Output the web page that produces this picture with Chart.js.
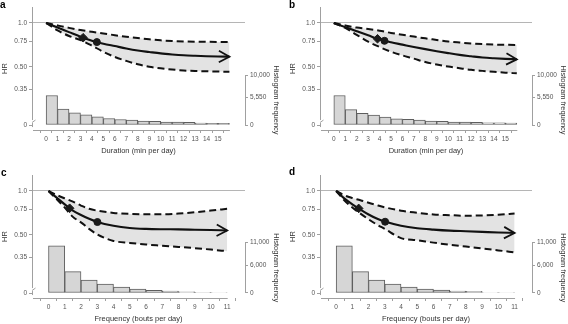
<!DOCTYPE html>
<html><head><meta charset="utf-8">
<script src="https://cdn.jsdelivr.net/npm/chart.js@4.4.1/dist/chart.umd.min.js"></script>
<style>
html,body{margin:0;padding:0;background:#fff;}
#wrap{position:relative;width:568px;height:324px;overflow:hidden;background:#fff;}
canvas{position:absolute;}
.lbl{position:absolute;font:bold 10px 'Liberation Sans',Arial,sans-serif;color:#000;line-height:10px;}
</style></head><body>
<div id="wrap">
<canvas id="ca" width="284" height="156" style="left:0;top:0"></canvas>
<canvas id="cb" width="280" height="156" style="left:288px;top:0"></canvas>
<canvas id="cc" width="284" height="156" style="left:0;top:168px"></canvas>
<canvas id="cd" width="280" height="156" style="left:288px;top:168px"></canvas>
<div class="lbl" style="left:0px;top:0px">a</div>
<div class="lbl" style="left:289px;top:0px">b</div>
<div class="lbl" style="left:1px;top:168px">c</div>
<div class="lbl" style="left:289px;top:167px">d</div>
</div>
<script>
// ---------- data ----------
const durationX = [0,1,2,3,4,5,6,7,8,9,10,11,12,13,14,15,16];
const frequencyX = [0,0.5,1,1.5,2,2.5,3,4,5,6,7,8,9,10,11];

const hrA = [1.0,0.931,0.866,0.806,0.757,0.722,0.695,0.669,0.648,0.633,0.619,0.609,0.601,0.596,0.592,0.589,0.588];
const upA = [1.0,0.962,0.926,0.895,0.870,0.848,0.825,0.805,0.788,0.773,0.761,0.753,0.748,0.745,0.743,0.742,0.741];
const loA = [1.0,0.890,0.815,0.764,0.700,0.635,0.585,0.550,0.522,0.502,0.489,0.480,0.473,0.469,0.467,0.465,0.464];
const markXA = [3.23,4.43];
const markHRA = [0.793,0.740];

const hrB = [1.0,0.937,0.878,0.823,0.772,0.738,0.711,0.685,0.662,0.641,0.622,0.605,0.592,0.580,0.573,0.568,0.564];
const upB = [1.0,0.962,0.930,0.910,0.885,0.855,0.830,0.807,0.785,0.766,0.747,0.735,0.725,0.717,0.712,0.709,0.707];
const loB = [1.0,0.925,0.830,0.745,0.685,0.635,0.600,0.570,0.540,0.520,0.503,0.490,0.478,0.470,0.463,0.457,0.452];
const markXB = [3.82,4.43];
const markHRB = [0.780,0.755];

const hrC = [1.0,0.900,0.810,0.735,0.685,0.645,0.614,0.578,0.558,0.550,0.547,0.546,0.543,0.540,0.537];
const upC = [1.0,0.940,0.890,0.845,0.795,0.755,0.733,0.708,0.697,0.692,0.693,0.700,0.715,0.735,0.755];
const loC = [1.0,0.880,0.770,0.665,0.610,0.550,0.505,0.455,0.441,0.430,0.422,0.414,0.406,0.397,0.387];
const markXC = [1.30,3.01];
const markHRC = [0.762,0.613];

const hrD = [1.0,0.890,0.810,0.745,0.690,0.648,0.617,0.578,0.556,0.544,0.535,0.530,0.525,0.520,0.516];
const upD = [1.0,0.935,0.895,0.865,0.830,0.800,0.773,0.733,0.710,0.691,0.683,0.677,0.680,0.687,0.702];
const loD = [1.0,0.865,0.770,0.700,0.640,0.590,0.550,0.476,0.460,0.443,0.428,0.416,0.404,0.392,0.380];
const markXD = [1.39,3.02];
const markHRD = [0.760,0.616];

const durationBins = [0,1,2,3,4,5,6,7,8,9,10,11,12,13,14,15];
const frequencyBins = [0,1,2,3,4,5,6,7,8,9,10];
const histA = [5900,3200,2420,2030,1630,1300,1100,985,790,710,590,590,510,390,315,315];
const histB = [5900,3080,2350,1960,1570,1240,1120,980,780,720,590,590,530,450,450,390];
const histC = [10300,4660,2800,1940,1290,860,560,430,280,140,100];
const histD = [10250,4660,2800,1940,1290,860,650,430,350,100,100];

const hrTicks = [0.2,0.35,0.5,0.75,1.0];
const hrTickLabels = ['0','0.35','0.50','0.75','1.0'];
const durationTicks = [0,1,2,3,4,5,6,7,8,9,10,11,12,13,14,15];
const frequencyTicks = [0,1,2,3,4,5,6,7,8,9,10,11];
const histTicksDuration = [0,5550,10000];
const histTicksFrequency = [0,6000,11000];

// ---------- drawing ----------
const FONT = "'Liberation Sans', Arial, sans-serif";
Chart.defaults.font.family = FONT;
Chart.defaults.color = '#555';

const axisPlugin = {
  id: 'axisLines',
  afterDraw(chart, args, o) {
    const {ctx, chartArea: a, scales} = chart;
    const xs = scales.x, ys = scales.y, yh = scales.yh;
    ctx.save();
    ctx.strokeStyle = '#a0a0a0';
    ctx.lineWidth = 1;
    const lx = Math.round(a.left) + 0.5;
    const y0 = ys.getPixelForValue(hrTicks[0]);
    ctx.beginPath();
    ctx.moveTo(lx, a.top); ctx.lineTo(lx, y0 - 5);
    ctx.moveTo(lx, y0 - 2); ctx.lineTo(lx, y0 + 2);
    ctx.stroke();
    ctx.beginPath();
    ctx.moveTo(lx - 0.5, y0 - 2.5); ctx.lineTo(lx + 3, y0 - 5);
    ctx.stroke();
    const by = Math.round(a.bottom) + 0.5;
    ctx.beginPath();
    ctx.moveTo(a.left + 1, by); ctx.lineTo(xs.getPixelForValue(o.xEnd) + 0.5, by);
    ctx.stroke();
    const rx = Math.round(a.right) + 0.5;
    const h0 = yh.getPixelForValue(0), h1 = yh.getPixelForValue(o.hTop);
    ctx.beginPath(); ctx.moveTo(rx, h0); ctx.lineTo(rx, h1); ctx.stroke();
    // right axis title
    ctx.save();
    ctx.fillStyle = '#333';
    ctx.font = '7.5px ' + FONT;
    ctx.textAlign = 'center'; ctx.textBaseline = 'middle';
    ctx.translate(a.right + 31.5, (h0 + h1) / 2);
    ctx.rotate(Math.PI / 2);
    ctx.fillText('Histogram frequency', 0, 0);
    ctx.restore();
    // arrowhead at end of HR curve
    const pts = chart.getDatasetMeta(2).data;
    const p1 = pts[pts.length - 1], p0 = pts[pts.length - 2];
    const ang = Math.atan2(p1.y - p0.y, p1.x - p0.x);
    const L = 12, w = 0.5;
    ctx.strokeStyle = '#111'; ctx.lineWidth = 1.8;
    ctx.beginPath();
    ctx.moveTo(p1.x - L * Math.cos(ang - w), p1.y - L * Math.sin(ang - w));
    ctx.lineTo(p1.x, p1.y);
    ctx.lineTo(p1.x - L * Math.cos(ang + w), p1.y - L * Math.sin(ang + w));
    ctx.stroke();
    ctx.restore();
  }
};

function pts(xs, ys) { return xs.map((x, i) => ({x: x, y: ys[i]})); }

function buildPanel(id, p) {
  return new Chart(document.getElementById(id), {
    type: 'line',
    data: { datasets: [
      { label: 'upper', data: pts(p.x, p.up), yAxisID: 'y', borderColor: '#111', borderWidth: 2,
        borderDash: [7, 4], pointRadius: 0, fill: '+1', backgroundColor: '#e3e3e3',
        cubicInterpolationMode: 'monotone', order: 4 },
      { label: 'lower', data: pts(p.x, p.lo), yAxisID: 'y', borderColor: '#111', borderWidth: 2,
        borderDash: [7, 4], pointRadius: 0, fill: false, cubicInterpolationMode: 'monotone', order: 3 },
      { label: 'HR', data: pts(p.x, p.hr), yAxisID: 'y', borderColor: '#111', borderWidth: 2.1,
        pointRadius: 0, fill: false, cubicInterpolationMode: 'monotone', order: 2 },
      { label: 'markers', data: pts(p.mx, p.mhr), yAxisID: 'y', showLine: false,
        pointStyle: ['rectRot', 'circle'], pointRadius: [4.3, 3.5],
        pointBackgroundColor: '#1a1a1a', pointBorderColor: '#1a1a1a', pointBorderWidth: 1, order: 1 },
      { type: 'bar', label: 'hist', data: p.bins.map((b, i) => ({x: b + 0.5, y: p.hist[i]})), yAxisID: 'yh',
        backgroundColor: '#d6d6d6', borderColor: '#5e5e5e', borderWidth: 1, borderSkipped: false,
        barPercentage: 1, categoryPercentage: 1, order: 5 }
    ]},
    options: {
      responsive: false, animation: false,
      layout: { padding: { top: 7, left: 0, right: 0, bottom: 0 } },
      plugins: { legend: { display: false }, tooltip: { enabled: false },
        axisLines: { xEnd: p.x[p.x.length - 1], hTop: p.hTicks[p.hTicks.length - 1] } },
      scales: {
        x: { type: 'linear', min: p.xMin, max: p.xMax, bounds: 'data',
          afterBuildTicks: s => { s.ticks = p.xTicks.map(v => ({value: v})); },
          afterFit: s => { s.height = 26; },
          grid: { drawOnChartArea: false, tickColor: '#a0a0a0', tickLength: 3 },
          border: { display: false },
          ticks: { font: { size: 6.5 }, color: '#555', padding: 2, maxRotation: 0, autoSkip: false },
          title: { display: true, text: p.xTitle, font: { size: 7.5 }, color: '#333', padding: { top: 0, bottom: 1 } } },
        y: { type: 'logarithmic', position: 'left', min: 0.185, max: 1.287, bounds: 'data',
          afterBuildTicks: s => { s.ticks = hrTicks.map(v => ({value: v})); },
          afterFit: s => { s.width = 32; },
          grid: { color: c => (c.tick && c.tick.value === 1) ? '#b5b5b5' : 'rgba(0,0,0,0)',
                  tickColor: '#a0a0a0', tickLength: 3 },
          border: { display: false },
          ticks: { font: { size: 6.5 }, color: '#555', padding: 2, autoSkip: false,
                   callback: (v, i) => hrTickLabels[i] },
          title: { display: true, text: 'HR', font: { size: 7.5 }, color: '#333', padding: 0 } },
        yh: { type: 'linear', position: 'right', min: p.hMin, max: p.hMax, bounds: 'data',
          afterBuildTicks: s => { s.ticks = p.hTicks.map(v => ({value: v})); },
          afterFit: s => { s.width = p.rightW; },
          grid: { drawOnChartArea: false, tickColor: '#a0a0a0', tickLength: 3 },
          border: { display: false },
          ticks: { font: { size: 6.5 }, color: '#555', padding: 2, autoSkip: false,
                   callback: v => v.toLocaleString('en-US') } }
      }
    },
    plugins: [axisPlugin]
  });
}

buildPanel('ca', { x: durationX, hr: hrA, up: upA, lo: loA, mx: markXA, mhr: markHRA,
  bins: durationBins, hist: histA, xTicks: durationTicks, hTicks: histTicksDuration,
  xMin: -0.65, xMax: 16.78, hMin: -1000, hMax: 23600, rightW: 39, xTitle: 'Duration (min per day)' });
buildPanel('cb', { x: durationX, hr: hrB, up: upB, lo: loB, mx: markXB, mhr: markHRB,
  bins: durationBins, hist: histB, xTicks: durationTicks, hTicks: histTicksDuration,
  xMin: -0.63, xMax: 16.75, hMin: -1000, hMax: 23600, rightW: 36, xTitle: 'Duration (min per day)' });
buildPanel('cc', { x: frequencyX, hr: hrC, up: upC, lo: loC, mx: markXC, mhr: markHRC,
  bins: frequencyBins, hist: histC, xTicks: frequencyTicks, hTicks: histTicksFrequency,
  xMin: -0.47, xMax: 11.55, hMin: -1090, hMax: 25700, rightW: 39, xTitle: 'Frequency (bouts per day)' });
buildPanel('cd', { x: frequencyX, hr: hrD, up: upD, lo: loD, mx: markXD, mhr: markHRD,
  bins: frequencyBins, hist: histD, xTicks: frequencyTicks, hTicks: histTicksFrequency,
  xMin: -0.45, xMax: 11.53, hMin: -1090, hMax: 25700, rightW: 36, xTitle: 'Frequency (bouts per day)' });
</script>
</body></html>
